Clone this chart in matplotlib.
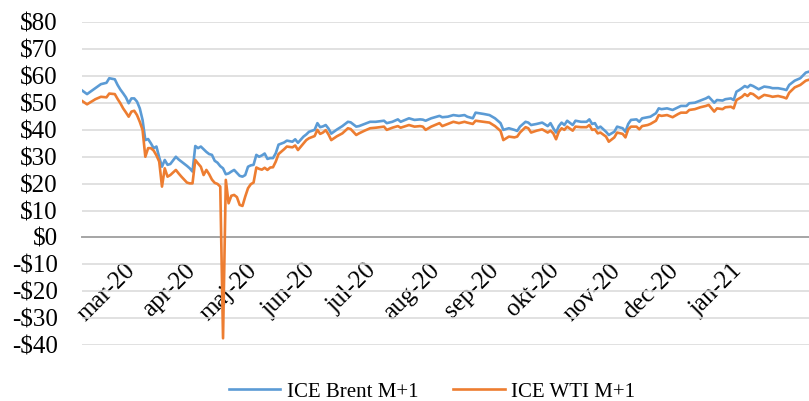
import matplotlib
matplotlib.use("Agg")
import matplotlib.pyplot as plt
import pandas as pd

plt.rcParams['font.family'] = ['Liberation Serif', 'DejaVu Serif']
plt.rcParams['text.parse_math'] = False

# ---- DATA ----
# trading days from 5 Feb 2020 to 5 Feb 2021, values in USD/bbl
days = pd.bdate_range("2020-02-05", "2021-02-05")

# trading-day number of each reading
obs = [0, 2, 5, 7, 9, 10, 12, 13, 14, 15, 16, 17, 18, 19, 20, 21, 22, 23, 24, 25,
       26, 27, 28, 29, 30, 31, 32, 34, 35, 36, 38, 39, 40, 41, 42, 43, 44, 45, 46, 47,
       48, 49, 50, 51, 52, 53, 54, 55, 56, 57, 58, 59, 60, 61, 62, 63, 64, 65, 66, 67,
       68, 69, 70, 71, 73, 74, 76, 77, 78, 80, 81, 82, 84, 85, 86, 87, 88, 89, 90, 92,
       94, 96, 97, 99, 100, 102, 104, 106, 109, 110, 112, 114, 115, 118, 120, 122, 123, 124, 126, 129,
       130, 132, 134, 136, 138, 139, 141, 142, 145, 147, 149, 151, 152, 154, 156, 157, 158, 160, 161, 162,
       164, 166, 168, 169, 170, 171, 172, 173, 174, 175, 177, 178, 180, 182, 183, 184, 185, 186, 187, 189,
       190, 192, 193, 195, 196, 197, 198, 200, 201, 202, 204, 205, 207, 208, 209, 211, 213, 215, 216, 218,
       219, 221, 223, 225, 226, 228, 229, 231, 232, 234, 235, 236, 237, 238, 239, 240, 241, 242, 244, 246,
       248, 249, 251, 253, 254, 255, 257, 259, 261, 262]

brent = [54.8, 53.3, 55.5, 57.0, 57.5, 59.2, 58.8, 56.7, 55.0, 53.6, 52.1, 49.9, 51.7, 51.7, 50.5, 48.0, 43.7, 36.2, 36.6, 35.0,
         33.2, 33.8, 29.8, 26.3, 28.8, 27.0, 27.3, 30.0, 29.0, 28.2, 26.6, 25.7, 24.5, 34.0, 33.2, 33.8, 32.8, 31.8, 31.0, 30.7,
         28.5, 27.8, 26.5, 25.7, 23.5, 23.8, 24.5, 25.1, 24.0, 22.9, 22.6, 23.2, 26.3, 26.8, 27.0, 30.7, 30.0, 30.5, 31.2, 29.2,
         29.5, 29.5, 31.3, 34.5, 35.3, 36.0, 35.6, 36.5, 35.2, 37.5, 38.3, 39.3, 40.0, 42.5, 41.0, 41.3, 41.8, 40.5, 38.6, 40.1,
         41.4, 43.0, 42.8, 41.2, 41.4, 42.2, 43.0, 43.0, 43.4, 42.5, 43.0, 43.9, 43.0, 44.3, 43.7, 43.9, 43.8, 43.4, 44.3, 45.2,
         44.7, 44.9, 45.5, 45.2, 45.5, 44.9, 44.3, 46.4, 45.9, 45.5, 44.3, 42.5, 40.0, 40.6, 40.0, 39.6, 41.2, 43.0, 42.7, 41.8,
         42.2, 42.7, 41.4, 42.5, 40.6, 39.0, 41.4, 42.7, 41.8, 43.4, 41.8, 43.4, 43.0, 43.0, 43.9, 42.2, 42.5, 40.6, 41.2, 39.3,
         38.1, 39.3, 41.2, 40.6, 39.3, 42.2, 43.7, 43.9, 43.0, 44.3, 44.7, 44.9, 46.2, 48.0, 47.7, 48.0, 47.4, 48.4, 48.9, 48.9,
         49.9, 50.1, 50.9, 51.7, 52.3, 50.1, 51.1, 50.9, 51.4, 51.7, 51.1, 54.2, 54.8, 55.5, 56.3, 55.8, 56.7, 56.3, 55.1, 56.1,
         55.8, 55.5, 55.5, 55.1, 54.8, 56.7, 58.3, 59.2, 61.3, 61.6]

wti = [50.9, 49.5, 51.4, 52.3, 52.1, 53.5, 53.3, 51.5, 49.9, 48.0, 46.5, 44.9, 46.8, 47.1, 45.5, 43.0, 40.0, 30.0, 33.2, 33.2,
       32.3, 30.5, 28.2, 18.9, 25.7, 22.6, 23.2, 25.1, 23.8, 22.6, 20.4, 20.1, 20.1, 28.8, 27.5, 26.3, 23.2, 25.1, 23.5, 21.5,
       20.3, 19.9, 18.9, -37.5, 21.4, 12.7, 15.5, 15.8, 15.0, 12.1, 11.7, 15.2, 18.3, 19.8, 20.4, 26.0, 25.5, 25.2, 25.9, 25.1,
       26.0, 26.1, 28.2, 31.0, 32.8, 33.8, 33.5, 34.2, 32.5, 35.0, 36.2, 36.9, 37.7, 40.0, 38.5, 39.0, 39.9, 38.3, 36.2, 37.6,
       38.7, 40.6, 40.3, 38.1, 38.7, 39.7, 40.6, 40.8, 41.2, 40.0, 40.8, 41.4, 40.8, 41.8, 41.2, 41.4, 41.2, 40.0, 41.2, 42.5,
       41.4, 42.2, 43.0, 42.5, 43.0, 42.7, 42.2, 43.4, 43.0, 42.7, 41.4, 39.6, 36.2, 37.5, 37.2, 37.5, 39.0, 41.0, 40.6, 39.0,
       39.7, 40.2, 39.0, 39.7, 38.7, 36.5, 39.3, 40.6, 40.0, 41.2, 39.7, 41.2, 41.0, 41.0, 41.8, 40.0, 40.2, 38.7, 39.0, 37.5,
       35.6, 37.2, 39.0, 38.5, 37.2, 40.2, 41.2, 41.2, 40.2, 41.4, 41.8, 42.2, 43.4, 45.5, 45.2, 45.5, 44.7, 45.9, 46.4, 46.4,
       47.4, 47.7, 48.4, 48.9, 49.3, 46.8, 48.0, 47.7, 48.4, 48.6, 48.0, 51.1, 51.7, 52.3, 53.3, 52.6, 53.6, 53.3, 51.7, 53.0,
       52.6, 52.3, 52.6, 52.1, 51.7, 53.8, 55.8, 56.7, 58.3, 58.6]

month_labels = ["mar-20", "apr-20", "maj-20", "jun-20", "jul-20", "aug-20",
                "sep-20", "okt-20", "nov-20", "dec-20", "jan-21"]
series_names = ["ICE Brent M+1", "ICE WTI M+1"]

# first trading day of every month -> tick positions
day_no = pd.Series(range(len(days)), index=days)
month_first = day_no.groupby(days.to_period("M")).first().iloc[1:1 + len(month_labels)]

# ---- PLOT ----
fig = plt.figure(figsize=(8.09, 4.01), dpi=100)
ax = fig.add_axes([81.5 / 809, 1 - 345 / 401, (808.6 - 81.5) / 809, (345 - 22.3) / 401])

# horizontal axis sits on the $0 line (must be set before the ticks)
for side in ['top', 'right', 'left']:
    ax.spines[side].set_visible(False)
ax.spines['bottom'].set_position(('data', 0))
ax.spines['bottom'].set_color('#A6A6A6')
ax.spines['bottom'].set_linewidth(1.4)

l1, = ax.plot(obs, brent, color='#5B9BD5', lw=1.9, zorder=3, label=series_names[0])
l2, = ax.plot(obs, wti, color='#ED7D31', lw=1.9, zorder=4, label=series_names[1])

ax.set_xlim(0, len(days) - 1)
ax.set_ylim(-40, 80)

yt = list(range(-40, 81, 10))
ax.set_yticks(yt, [f"${v}" if v >= 0 else f"-${-v}" for v in yt], fontsize=18)
ax.yaxis.grid(True, color='#D9D9D9', lw=1.1)
ax.set_axisbelow(True)

ax.set_xticks(month_first.values, month_labels)
for lab in ax.get_xticklabels():
    lab.set_rotation(45)
    lab.set_rotation_mode('anchor')
    lab.set_ha('right')
    lab.set_va('center')
    lab.set_fontsize(18)

ax.tick_params(axis='both', length=0)
ax.tick_params(axis='y', pad=17)
ax.tick_params(axis='x', pad=21.5)

fig.legend(handles=[l1, l2], loc='center', bbox_to_anchor=(432 / 809, 1 - 392 / 401),
           ncol=2, frameon=False, fontsize=15, handlelength=2.45, handletextpad=0.3,
           columnspacing=1.7)

fig.savefig("out.png", dpi=100)
